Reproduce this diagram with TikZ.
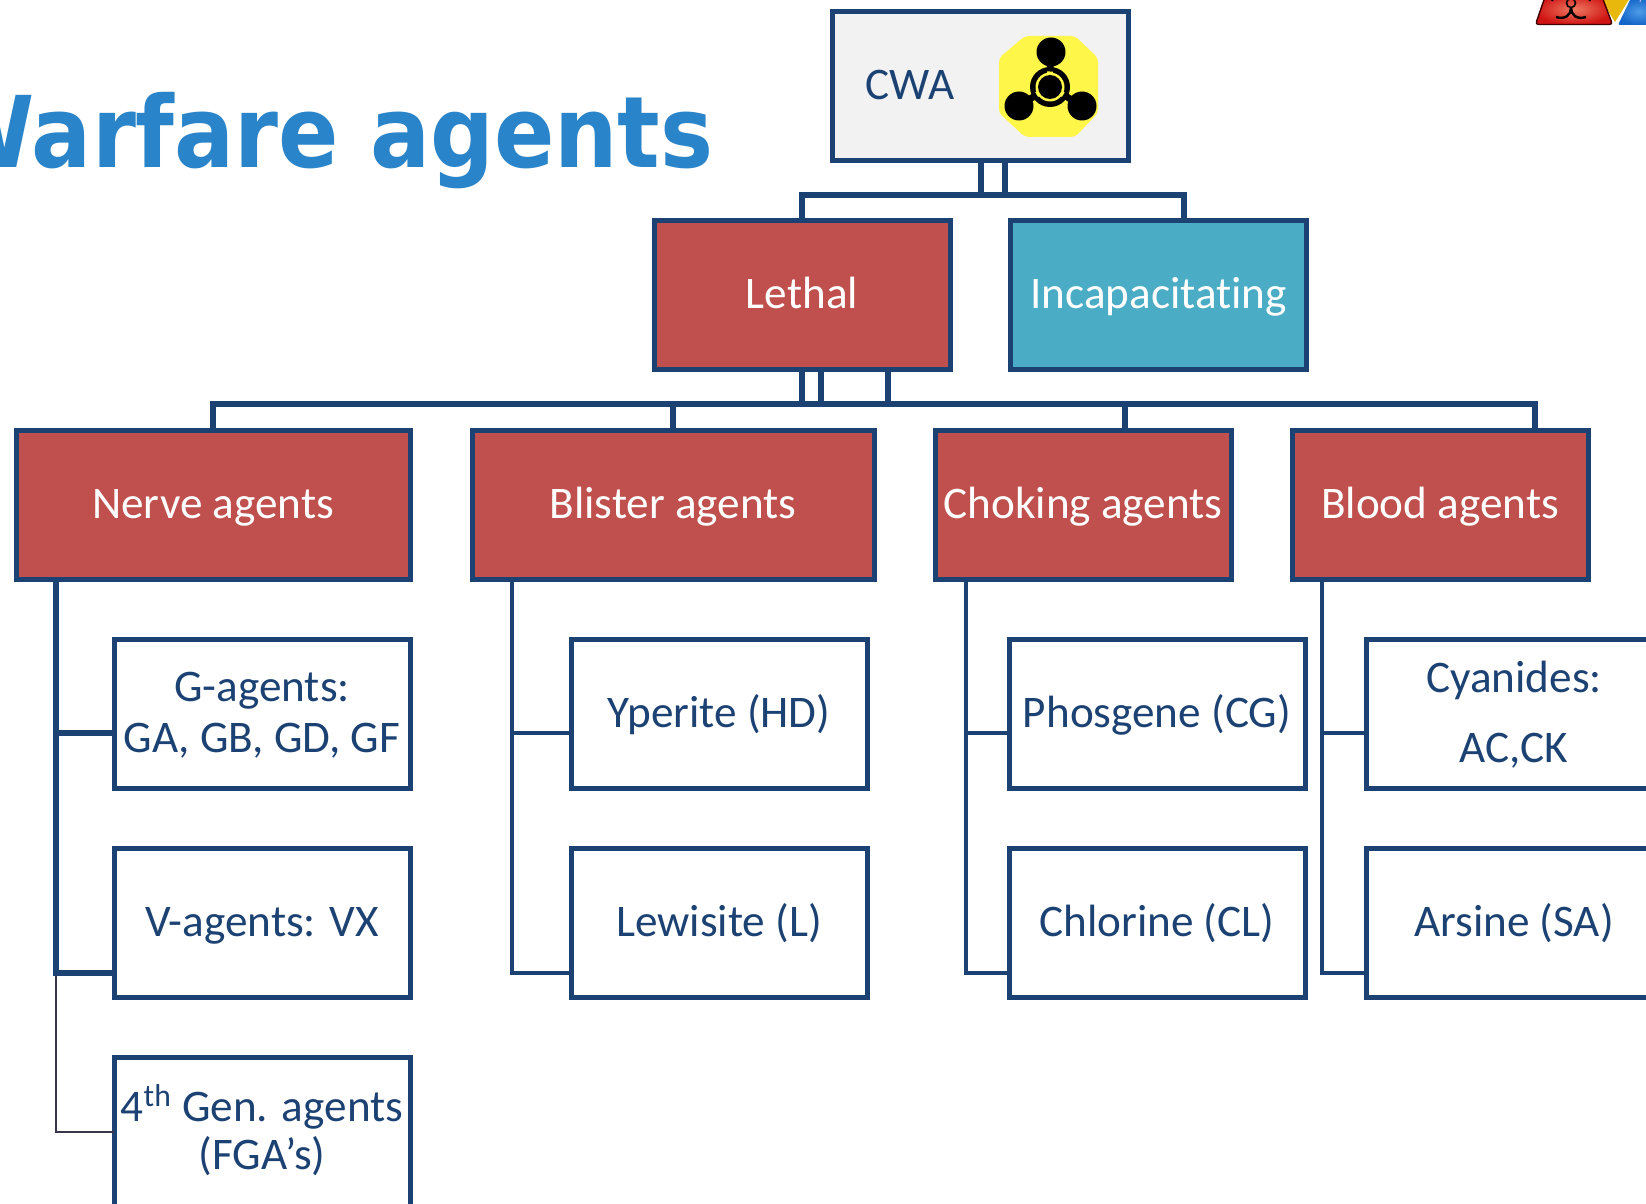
\documentclass[tikz,border=0pt]{standalone}
\usepackage{fontspec}
\setmainfont{Carlito}[Ligatures=CommonOff]
\newfontfamily\titlefont{DejaVu Sans}[BoldFont={DejaVu Sans Bold},BoldFeatures={FakeStretch=0.9}]
\definecolor{navy}{HTML}{1C4273}
\definecolor{redbox}{HTML}{C0504D}
\definecolor{bluebox}{HTML}{4BACC6}
\definecolor{greybox}{HTML}{F2F2F2}
\definecolor{titleblue}{HTML}{2A84C9}
\definecolor{hazyellow}{HTML}{FFF64A}
\definecolor{thinline}{HTML}{3A3648}
\definecolor{hazredin}{HTML}{EE7A62}
\definecolor{hazredout}{HTML}{D01414}
\definecolor{hazyel}{HTML}{E8B90C}
\definecolor{hazbluein}{HTML}{4E9BE8}
\definecolor{hazblueout}{HTML}{1466C8}
\newcommand{\ts}{\rule[-6.05pt]{0pt}{25.5pt}}
\tikzset{
  x=0.5pt,y=-0.5pt,
  boxbase/.style={draw=navy,line width=2.5pt,rectangle,inner sep=0pt,outer sep=0pt,
    minimum width=148pt,minimum height=74.5pt,align=center,
    font=\fontsize{22.6}{25.5}\selectfont},
  redb/.style={boxbase,fill=redbox,text=white},
  blueb/.style={boxbase,fill=bluebox,text=white},
  whiteb/.style={boxbase,fill=white,text=navy},
  conn/.style={draw=navy,line width=2.6pt},
  stem/.style={draw=navy,line width=2.2pt},
  thin conn/.style={draw=thinline,line width=1pt},
  spoke/.style={draw=hazyellow,line width=2.6pt},
  blackstem/.style={draw=black,line width=3.4pt},
}
\begin{document}
\begin{tikzpicture}
\path[use as bounding box,clip] (0,0) rectangle (1646,1204);
\fill[white] (0,0) rectangle (1646,1204);

% title
\node[anchor=base east,text=titleblue,inner sep=0pt,font=\titlefont\bfseries\fontsize{49.5}{60}\selectfont] (title) at (714,168) {Warfare agents};

% top-right hazard symbols
\fill[hazyel] (1600,-2) -- (1630,-2) -- (1615,22) -- cycle;
\shade[inner color=hazbluein,outer color=hazblueout,rounded corners=1pt] (1631,-2) -- (1618,25) -- (1660,25) -- (1660,-2) -- cycle;
\draw[white!75!blue,line width=.5pt] (1640,2) arc[start angle=170,end angle=290,radius=5];
\shade[inner color=hazredin,outer color=hazredout,rounded corners=1.5pt,draw=black!75!red,line width=.7pt] (1546,-6) -- (1535.5,24.5) -- (1612.5,24.5) -- (1601,-6) -- cycle;
\draw[black,line width=.8pt] (1571,3) circle[radius=4.5];
\draw[black,line width=1pt] (1552,1) arc[start angle=200,end angle=250,radius=14];
\draw[black,line width=1pt] (1590,1) arc[start angle=-20,end angle=-70,radius=14];
\draw[black,line width=1.2pt] (1571,8) .. controls (1571,15) and (1565,20) .. (1556,17);
\draw[black,line width=1.2pt] (1571,8) .. controls (1571,15) and (1577,20) .. (1586,17);

% boxes
\node[boxbase,fill=greybox] (cwa) at (980,86) {};
\node[redb]   (lethal) at (802,295) {\ts Lethal};
\node[blueb]  (incap)  at (1158.5,295) {\ts Incapacitating};

\node[redb,minimum width=197pt] (nerve)   at (213,505) {\ts Nerve agents};
\node[redb,minimum width=201pt] (blister) at (673,505) {\ts Blister agents};
\node[redb] (choking) at (1083,505) {\ts Choking agents};
\node[redb] (blood)   at (1440,505) {\ts Blood agents};

\node[whiteb] (g)  at (262,714) {\ts G-agents:\\\ts GA, GB, GD, GF};
\node[whiteb] (v)  at (262,923) {\ts V-agents: VX};
\node[whiteb] (fg) at (262,1132) {\ts 4\textsuperscript{th} Gen. agents\\[-1.5pt]\ts (FGA’s)};
\node[whiteb] (yp) at (719,714) {\ts Yperite (HD)};
\node[whiteb] (lw) at (719,923) {\ts Lewisite (L)};
\node[whiteb] (ph) at (1157,714) {\ts Phosgene (CG)};
\node[whiteb] (cl) at (1157,923) {\ts Chlorine (CL)};
\node[whiteb] (cy) at (1514,714) {\ts Cyanides:\\[9.5pt]\ts AC,CK};
\node[whiteb] (ar) at (1514,923) {\ts Arsine (SA)};

% CWA content
\node[text=navy,inner sep=0pt,font=\fontsize{22.6}{25.5}\selectfont] (cwatext) at (910,86) {\ts CWA};
\fill[hazyellow,rounded corners=2pt] (1025,36) -- (1075,36) -- (1098,58) -- (1098,113) -- (1075,137) -- (1025,137) -- (999,113) -- (999,58) -- cycle;
\fill[black] (1050,87) circle[radius=20];
\draw[spoke] (1050,87) -- +(-90:23);
\draw[spoke] (1050,87) -- +(30:23);
\draw[spoke] (1050,87) -- +(150:23);
\fill[hazyellow] (1050,87) circle[radius=14.5];
\fill[black] (1050,87) circle[radius=12];
\draw[blackstem] (1050,87)++(-90:15.5) -- (1051,52);
\draw[blackstem] (1050,87)++(30:15.5) -- (1082,106);
\draw[blackstem] (1050,87)++(150:15.5) -- (1019,106);
\fill[black] (1051,52) circle[radius=14.5];
\fill[black] (1019,106) circle[radius=14.5];
\fill[black] (1082,106) circle[radius=14.5];

% connector junctions
\coordinate (bus1a) at (981,195);
\coordinate (bus1b) at (1005,195);
\coordinate (bus1l) at (802,195);
\coordinate (bus1r) at (1184,195);
\coordinate (bus2a) at (802,404);
\coordinate (bus2b) at (821,404);
\coordinate (bus2c) at (888,404);
\coordinate (bus2n) at (213,404);
\coordinate (bus2bl) at (673,404);
\coordinate (bus2ch) at (1125,404);
\coordinate (bus2br) at (1535,404);
\coordinate (sn) at (56,578);
\coordinate (sb) at (512,578);
\coordinate (sc) at (966,578);
\coordinate (sd) at (1322,578);
\coordinate (r1) at (0,733);
\coordinate (r2) at (0,973);
\coordinate (r3) at (0,1132);

% connectors: top level
\draw[conn] (bus1a |- cwa.south) -- (bus1a);
\draw[conn] (bus1b |- cwa.south) -- (bus1b);
\draw[conn] (bus1l |- lethal.north) -- (bus1l) -- (bus1r) -- (bus1r |- incap.north);

% connectors: second level
\draw[conn] (bus2a |- lethal.south) -- (bus2a);
\draw[conn] (bus2b |- lethal.south) -- (bus2b);
\draw[conn] (bus2c |- lethal.south) -- (bus2c);
\draw[conn] (bus2n |- nerve.north) -- (bus2n) -- (bus2br) -- (bus2br |- blood.north);
\draw[conn] (bus2bl) -- (bus2bl |- blister.north);
\draw[conn] (bus2ch) -- (bus2ch |- choking.north);

% connectors: side stems
\draw[thin conn] (sn |- r2) -- (sn |- r3) -- (r3 -| fg.west);
\draw[conn] (sn) -- (sn |- r1) -- (r1 -| g.west);
\draw[conn] (sn |- r1) -- (sn |- r2) -- (r2 -| v.west);
\draw[stem] (sb) -- (sb |- r1) -- (r1 -| yp.west);
\draw[stem] (sb |- r1) -- (sb |- r2) -- (r2 -| lw.west);
\draw[stem] (sc) -- (sc |- r1) -- (r1 -| ph.west);
\draw[stem] (sc |- r1) -- (sc |- r2) -- (r2 -| cl.west);
\draw[stem] (sd) -- (sd |- r1) -- (r1 -| cy.west);
\draw[stem] (sd |- r1) -- (sd |- r2) -- (r2 -| ar.west);
\end{tikzpicture}
\end{document}
